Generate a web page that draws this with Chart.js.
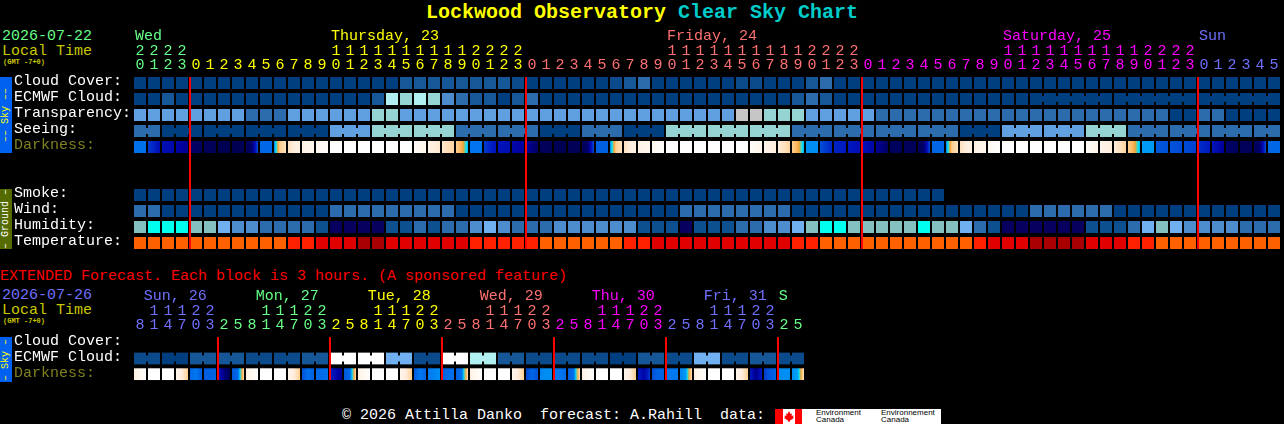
<!DOCTYPE html>
<html>
<head>
<meta charset="utf-8">
<title>Lockwood Observatory Clear Sky Chart</title>
<script src="https://cdn.jsdelivr.net/npm/chart.js@4/dist/chart.umd.min.js"></script>
<style>
  html, body { margin: 0; padding: 0; background: #000; overflow: hidden; }
  body { width: 1284px; height: 424px; position: relative; font-family: "Liberation Mono", monospace; }
  canvas { position: absolute; left: 0; }
  #main { top: 0; }
  #extended { top: 285px; }
  .txt { position: absolute; white-space: pre; font-size: 15px; line-height: 15px; }
  .side { position: absolute; left: 0; width: 12px; text-align: center; writing-mode: vertical-rl; transform: rotate(180deg);
          font-size: 10px; line-height: 12px; white-space: pre; }
  #logo { position: absolute; left: 775px; top: 409px; width: 166px; height: 15px; background: #fff; overflow: hidden; }
  #logo span { position: absolute; color: #000; font: 8px/7px "Liberation Sans", sans-serif; white-space: pre; top: 0; }
</style>
</head>
<body>
<div class="txt" style="left:426px;top:1px;font-size:20px;line-height:24px;font-weight:bold;color:#ffff00">Lockwood Observatory <span style="color:#00cccc">Clear Sky Chart</span></div>

<div class="txt" style="left:2px;top:29px;color:#66ff88">2026-07-22</div>
<div class="txt" style="left:2px;top:44px;color:#c8c800">Local Time</div>
<div class="txt" style="left:3px;top:58px;font-size:7px;line-height:8px;font-weight:bold;color:#c8c800">(GMT -7+0)</div>
<div class="side" style="top:77px;height:76px;background:#0060f0;color:#ffff00">–– Sky ––</div>
<div class="side" style="top:189px;height:60px;background:#556b00;color:#ffffff">– Ground –</div>

<div class="txt" style="left:0;top:269px;color:#ff0000">EXTENDED Forecast. Each block is 3 hours. (A sponsored feature)</div>

<div class="txt" style="left:2px;top:288px;color:#7070ff">2026-07-26</div>
<div class="txt" style="left:2px;top:303px;color:#c8c800">Local Time</div>
<div class="txt" style="left:3px;top:317px;font-size:7px;line-height:8px;font-weight:bold;color:#c8c800">(GMT -7+0)</div>
<div class="side" style="top:337px;height:45px;background:#0060f0;color:#ffff00">– Sky –</div>

<div class="txt" style="left:342px;top:408px;color:#ffffff">© 2026 Attilla Danko  forecast: A.Rahill  data:</div>
<div id="logo">
  <svg width="27" height="15" style="position:absolute;left:0;top:0">
    <rect width="27" height="15" fill="#fff"/>
    <rect width="8" height="15" fill="#ff0000"/>
    <rect x="20" width="7" height="15" fill="#ff0000"/>
    <polygon fill="#ff0000" points="14,2 15.5,5 17,4.5 16.5,7 18.5,6.5 18,8.5 19,9 15,11.5 14.5,13 13.5,13 13,11.5 9,9 10,8.5 9.5,6.5 11.5,7 11,4.5 12.5,5"/>
  </svg>
  <span style="left:41px">Environment
Canada</span>
  <span style="left:106px">Environnement
Canada</span>
</div>

<canvas id="main" width="1284" height="260"></canvas>
<canvas id="extended" width="1284" height="100"></canvas>

<script>
// colour ladders, the row arrays below are indexes into these
const skyColors = ['#003f7f', '#0b4b8b', '#165897', '#2c6cac', '#4c8ccc', '#60a0e0', '#70b0f0', '#96d4d4', '#b0f0f0', '#c6c6c6', '#ffffff'];
const humidityColors = ['#08005f', '#0d5090', '#2c6cac', '#4d8dcd', '#70b0f0', '#85c0c0', '#00ffee'];
const temperatureColors = ['#a80000', '#e00000', '#ff2000', '#ff6000'];
const darknessColors = ['#000040', '#000060', '#0000a0', '#0018c0', '#0050d8', '#0078f0', '#00e8ff', '#f8a030', '#ffcf90', '#ffeedd', '#ffffff'];

const green = '#66ff88', yellow = '#ffff00', salmon = '#ff7070', magenta = '#ff00ff', blue = '#7070ff';

// main forecast, one block per hour
const hours = [20,21,22,23,
  0,1,2,3,4,5,6,7,8,9,10,11,12,13,14,15,16,17,18,19,20,21,22,23,
  0,1,2,3,4,5,6,7,8,9,10,11,12,13,14,15,16,17,18,19,20,21,22,23,
  0,1,2,3,4,5,6,7,8,9,10,11,12,13,14,15,16,17,18,19,20,21,22,23,
  0,1,2,3,4,5];
const dayNames = ['Wed', 'Thursday, 23', 'Friday, 24', 'Saturday, 25', 'Sun'];
const dayCols = [0, 14, 38, 62, 76];
const dayFirstCols = [0, 4, 28, 52, 76];
const dayColors = [green, yellow, salmon, magenta, blue];
const midnights = [4, 28, 52, 76];

const cloudCover = [0,0,0,0,0,0,0,0,0,0,
  0,0,0,0,0,0,0,0,0,2,
  2,2,2,2,2,2,2,1,0,0,
  0,0,0,0,1,2,3,0,0,0,
  0,0,0,1,1,0,0,0,2,3,
  0,0,0,0,0,0,0,0,0,0,
  0,0,0,0,0,0,0,0,0,0,
  0,0,0,0,0,0,0,0,0,0,
  0,0];
const ecmwfCloud = [0,0,2,0,0,0,0,0,0,0,
  0,0,0,0,0,0,0,2,8,7,
  8,7,4,3,2,2,0,2,3,0,
  0,0,0,0,0,0,0,0,0,0,
  0,0,0,0,0,0,0,2,3,2,
  0,0,0,0,0,0,0,0,0,0,
  0,0,0,0,0,0,0,0,0,0,
  0,0,0,0,0,0,0,0,0,0,
  0,0];
const transparency = [5,5,5,5,5,5,5,5,3,3,
  3,5,5,5,5,5,5,7,7,5,
  5,5,5,5,5,5,5,5,5,5,
  5,5,5,5,5,5,5,5,5,5,
  5,5,5,9,9,7,7,7,5,5,
  5,5,5,3,3,3,3,3,3,3,
  3,3,3,3,3,3,3,3,3,3,
  3,3,3,3,0,0,3,3,0,0,
  0,0];
const seeing = [3,3,0,0,0,0,0,0,0,0,
  0,0,0,0,5,5,5,7,7,7,
  7,7,7,3,3,3,3,3,3,0,
  0,0,3,3,3,0,0,0,7,7,
  7,7,7,7,7,7,7,3,3,3,
  3,3,3,3,3,3,3,3,3,0,
  0,0,5,5,5,5,5,5,7,7,
  7,3,3,3,3,3,3,3,3,3,
  3,3];
// sky brightness per hour: start, middle and end of the block
const darkness = [[4.8,4.8,4.8],[3.6,3.2,2.6],[2.6,2.5,2.3],[2.2,2,1.7],[1.2,1,.9],[.8,.8,.7],[.6,.6,.6],[.6,.6,.7],[.8,1.2,4],[4.6,4.6,4.6],
  [5,8,8.6],[8.6,9,9.2],[9.2,9.4,9.5],[9.5,9.7,9.8],[10,10,10],[10,10,10],[10,10,10],[10,10,10],[10,10,10],[10,10,10],
  [9.8,9.6,9.5],[9.3,9,8.8],[8.8,8.5,8.2],[8,7.3,5.5],[4.9,4.9,4.9],[3.6,3.2,2.8],[2.8,2.7,2.6],[2.3,2.1,2],[2,1.5,1],[.8,.8,.7],
  [.7,.6,.6],[.7,.7,.7],[.8,1.2,4],[4.4,4.4,4.4],[5,8,8.6],[8.6,9,9.2],[9.2,9.4,9.5],[9.6,9.8,9.9],[10,10,10],[10,10,10],
  [10,10,10],[10,10,10],[10,10,10],[10,10,10],[9.8,9.6,9.4],[9.4,9.2,9],[9,8.6,8.2],[8,7.3,5.5],[5.2,5.2,5.2],[4,3.6,3.2],
  [3.2,3.1,3],[3,2.8,2.6],[2.8,2.5,2.2],[1.9,1.5,1],[1,.9,.9],[.8,.8,.8],[.8,1.2,4],[4.5,4.5,4.5],[5,8,8.6],[8.6,9,9.2],
  [9.2,9.4,9.5],[9.6,9.8,9.9],[10,10,10],[10,10,10],[10,10,10],[10,10,10],[10,10,10],[10,10,10],[9.8,9.6,9.4],[9.4,9.2,9],
  [9,8.6,8.2],[8,7.3,5.5],[5.3,5.3,5.3],[4.2,4.1,4],[4,4,3.9],[3.9,3.8,3.7],[3.4,3.2,3],[2.8,2.4,1.8],[1.2,1,1],[.9,.8,.8],
  [.8,1.2,4],[4.6,4.6,4.6]];
const smoke = [0,0,0,0,0,0,0,0,0,0,
  0,0,0,0,0,0,0,0,0,0,
  0,0,0,0,0,0,0,0,0,0,
  0,0,0,0,0,0,0,0,0,0,
  0,0,0,0,0,0,0,0,0,0,
  0,0,0,0,0,0,0,0];
const wind = [3,3,0,0,0,0,0,0,0,0,
  0,0,0,0,3,3,3,3,3,3,
  3,3,3,0,0,0,0,0,0,0,
  0,0,0,0,0,0,0,0,0,3,
  3,3,3,3,3,3,3,0,0,0,
  0,0,0,0,0,0,0,0,0,0,
  0,0,0,0,3,3,3,3,3,3,
  0,0,0,0,0,0,0,0,0,0,
  0,0];
const humidity = [5,6,6,6,5,5,4,3,3,2,
  2,2,2,1,0,0,0,0,1,1,
  2,1,2,2,3,4,3,2,2,2,
  3,3,3,3,3,3,1,1,1,0,
  1,1,1,2,2,3,3,4,5,6,
  6,5,5,5,5,5,6,5,5,4,
  2,1,0,0,0,0,0,0,1,1,
  1,2,4,5,4,3,3,3,3,2,
  2,2];
const temperature = [3,3,3,3,3,3,3,3,3,3,
  3,2,2,1,1,1,0,0,1,1,
  1,1,1,1,2,2,2,2,2,3,
  3,3,3,3,3,2,2,1,1,1,
  1,1,1,1,1,1,1,2,2,3,
  3,3,3,3,3,3,3,3,3,3,
  2,1,1,1,0,0,0,0,1,1,
  1,2,2,3,3,3,3,3,3,3,
  3,3];

// extended forecast, one block per 3 hours
const extHours = [8,11,14,17,20,23,
  2,5,8,11,14,17,20,23,
  2,5,8,11,14,17,20,23,
  2,5,8,11,14,17,20,23,
  2,5,8,11,14,17,20,23,
  2,5,8,11,14,17,20,23,
  2,5];
const extDayNames = ['Sun, 26', 'Mon, 27', 'Tue, 28', 'Wed, 29', 'Thu, 30', 'Fri, 31', 'S'];
const extDayCols = [0.63, 8.63, 16.63, 24.63, 32.63, 40.63, 45.98];
const extFirstCols = [0, 6, 14, 22, 30, 38, 46];
const extDayColors = [blue, green, yellow, salmon, magenta, blue, green];
const extMidnights = [6, 14, 22, 30, 38, 46];
const extEcmwf = [1,1,0,0,2,2,2,2,1,1,1,1,2,2,10,10,10,10,6,6,1,1,10,10,8,8,2,2,1,1,1,1,1,1,0,0,2,2,1,1,6,6,1,1,2,2,1,1];
const extDarkness = [[9.2,9.6,9.9],[10,10,10],[10,10,10],[9.4,9,8],[4.6,5,4.2],[4.3,4.4,4.5],[3,1.5,.8],[4.2,4.6,8.4],
  [9.2,9.6,9.9],[10,10,10],[10,10,10],[9.4,9,8],[4,4.8,4.4],[4.6,4.7,4.8],[3.2,2.4,1.6],[4.2,4.6,8.4],
  [9.2,9.6,9.9],[10,10,10],[10,10,10],[9.4,9,8],[4.2,5,4.5],[5,5.1,5.2],[4.4,4.7,4.8],[4.4,4.8,8.6],
  [9.2,9.6,9.9],[10,10,10],[10,10,10],[9.4,9,8],[3.8,4.6,4],[5.1,5.2,5.2],[5,4.9,4.7],[4.3,4.8,8.6],
  [9.2,9.6,9.9],[10,10,10],[10,10,10],[9.4,9,8],[3,2.2,3.6],[4,4.5,4.4],[5,5,5],[5.1,5.3,8.6],
  [9.2,9.6,9.9],[10,10,10],[10,10,10],[9.4,9,8],[3,1.6,3],[3.6,4.2,4.5],[5.2,5.2,5.2],[5.2,5.4,8.8]];

const FONT = '"Liberation Mono", monospace';
const CELL = 6 / 16;   // half a block, in rows
const LINK = 3 / 16;

function hex(c) {
  return [1, 3, 5].map(i => parseInt(c.substr(i, 2), 16));
}

function darkColor(v) {
  const low = Math.min(Math.floor(v), darknessColors.length - 2);
  const t = v - low;
  const a = hex(darknessColors[low]), b = hex(darknessColors[low + 1]);
  return 'rgb(' + a.map((x, i) => Math.round(x + (b[i] - x) * t)).join(',') + ')';
}

function blocks(row, values, palette) {
  return {
    data: values.map((v, i) => ({ x: i, y: [row - CELL, row + CELL] })),
    backgroundColor: values.map(v => palette[v]),
    barThickness: 12
  };
}

// narrow joins across the gap between blocks of the same forecast run
function links(row, values, palette, linkCols) {
  return {
    data: linkCols.map(i => ({ x: i + 0.5, y: [row - LINK, row + LINK] })),
    backgroundColor: linkCols.map(i => palette[values[i]]),
    barThickness: 2
  };
}

function darkBlocks(row, values) {
  return {
    data: values.map((v, i) => ({ x: i, y: [row - CELL, row + CELL] })),
    barThickness: 12,
    backgroundColor: function (c) {
      const s = values[c.dataIndex];
      const px = c.chart.scales.x ? c.chart.scales.x.getPixelForValue(c.dataIndex) : NaN;
      if (!s || !isFinite(px)) return '#000';
      const g = c.chart.ctx.createLinearGradient(px - 6, 0, px + 6, 0);
      for (let k = 0; k <= 12; k++) {
        const t = k / 12;
        const v = t < 0.5 ? s[0] + (s[1] - s[0]) * t * 2 : s[1] + (s[2] - s[1]) * (t - 0.5) * 2;
        g.addColorStop(t, darkColor(v));
      }
      return g;
    }
  };
}

function redLines(cols, top, bottom) {
  return {
    data: cols.map(c => ({ x: c - 3 / 7, y: [top, bottom] })),
    backgroundColor: '#ff0000',
    barThickness: 2,
    order: -1
  };
}

function colorAt(col, firstCols, colors) {
  let k = 0;
  firstCols.forEach((f, i) => { if (col >= f) k = i; });
  return colors[k];
}

const dayLabelPlugin = {
  id: 'dayLabels',
  afterDraw(chart, args, opts) {
    const ctx = chart.ctx;
    ctx.save();
    ctx.font = '15px ' + FONT;
    ctx.textBaseline = 'alphabetic';
    ctx.textAlign = 'left';
    opts.names.forEach((name, i) => {
      ctx.fillStyle = opts.colors[i];
      ctx.fillText(name, chart.scales.x.getPixelForValue(opts.cols[i]) - 5, opts.baseline);
    });
    ctx.restore();
  }
};

function makeChart(id, cfg) {
  return new Chart(document.getElementById(id), {
    type: 'bar',
    data: { datasets: cfg.datasets },
    plugins: [dayLabelPlugin],
    options: {
      responsive: false,
      animation: false,
      events: [],
      grouped: false,
      inflateAmount: 0,
      layout: { autoPadding: false, padding: { left: 14, right: cfg.right, top: 0, bottom: cfg.bottom } },
      plugins: {
        legend: { display: false },
        tooltip: { enabled: false },
        dayLabels: cfg.days
      },
      scales: {
        x: {
          type: 'linear',
          position: 'top',
          offset: false,
          min: -0.5,
          max: cfg.hours.length - 0.5,
          grid: { display: false, drawTicks: false },
          border: { display: false },
          afterBuildTicks: s => { s.ticks = cfg.hours.map((h, i) => ({ value: i })); },
          afterFit: s => { s.height = cfg.top; },
          ticks: {
            autoSkip: false,
            maxRotation: 0,
            minRotation: 0,
            padding: 3,
            font: { family: FONT, size: 15, lineHeight: '14px' },
            color: c => colorAt(c.tick.value, cfg.firstCols, cfg.days.colors),
            callback: v => {
              const h = cfg.hours[v];
              return [h >= 10 ? String(Math.floor(h / 10)) : ' ', String(h % 10)];
            }
          }
        },
        y: {
          type: 'linear',
          reverse: true,
          min: -0.5,
          max: cfg.rowCount - 0.5,
          grid: { display: false, drawTicks: false },
          border: { display: false },
          afterBuildTicks: s => { s.ticks = cfg.rows.map(r => ({ value: r })); },
          afterFit: s => { s.width = 119; },
          ticks: {
            crossAlign: 'far',
            autoSkip: false,
            padding: 0,
            // the empty second line lifts the label a little, like the original
            font: { family: FONT, size: 15, lineHeight: '3px' },
            color: c => cfg.labels[cfg.rows.indexOf(c.tick.value)] === 'Darkness:' ? '#808020' : '#ffffff',
            callback: v => [cfg.labels[cfg.rows.indexOf(v)], ' ']
          }
        }
      }
    }
  });
}

const seeingLinks = hours.map((h, i) => i).filter(i => i < hours.length - 1 && i % 3 !== 1);
const ecmwfLinks = hours.map((h, i) => i).filter(i => i >= 64 && i < hours.length - 1 && i !== 69 && i !== 75);
const extLinks = extHours.map((h, i) => i).filter(i => i % 2 === 0);

makeChart('main', {
  hours: hours,
  firstCols: dayFirstCols,
  top: 75,
  right: 3,
  bottom: 9,
  rowCount: 11,
  rows: [0, 1, 2, 3, 4, 7, 8, 9, 10],
  labels: ['Cloud Cover:', 'ECMWF Cloud:', 'Transparency:', 'Seeing:', 'Darkness:', 'Smoke:', 'Wind:', 'Humidity:', 'Temperature:'],
  days: { names: dayNames, cols: dayCols, colors: dayColors, baseline: 40 },
  datasets: [
    redLines(midnights, -CELL, 10 + CELL),
    blocks(0, cloudCover, skyColors),
    blocks(1, ecmwfCloud, skyColors),
    links(1, ecmwfCloud, skyColors, ecmwfLinks),
    blocks(2, transparency, skyColors),
    blocks(3, seeing, skyColors),
    links(3, seeing, skyColors, seeingLinks),
    darkBlocks(4, darkness),
    blocks(7, smoke, skyColors),
    blocks(8, wind, skyColors),
    blocks(9, humidity, humidityColors),
    blocks(10, temperature, temperatureColors)
  ]
});

makeChart('extended', {
  hours: extHours,
  firstCols: extFirstCols,
  top: 50,
  right: 479,
  bottom: 2,
  rowCount: 3,
  rows: [0, 1, 2],
  labels: ['Cloud Cover:', 'ECMWF Cloud:', 'Darkness:'],
  days: { names: extDayNames, cols: extDayCols, colors: extDayColors, baseline: 15 },
  datasets: [
    redLines(extMidnights, -CELL, 2 + CELL),
    blocks(1, extEcmwf, skyColors),
    links(1, extEcmwf, skyColors, extLinks),
    darkBlocks(2, extDarkness)
  ]
});
</script>
</body>
</html>
